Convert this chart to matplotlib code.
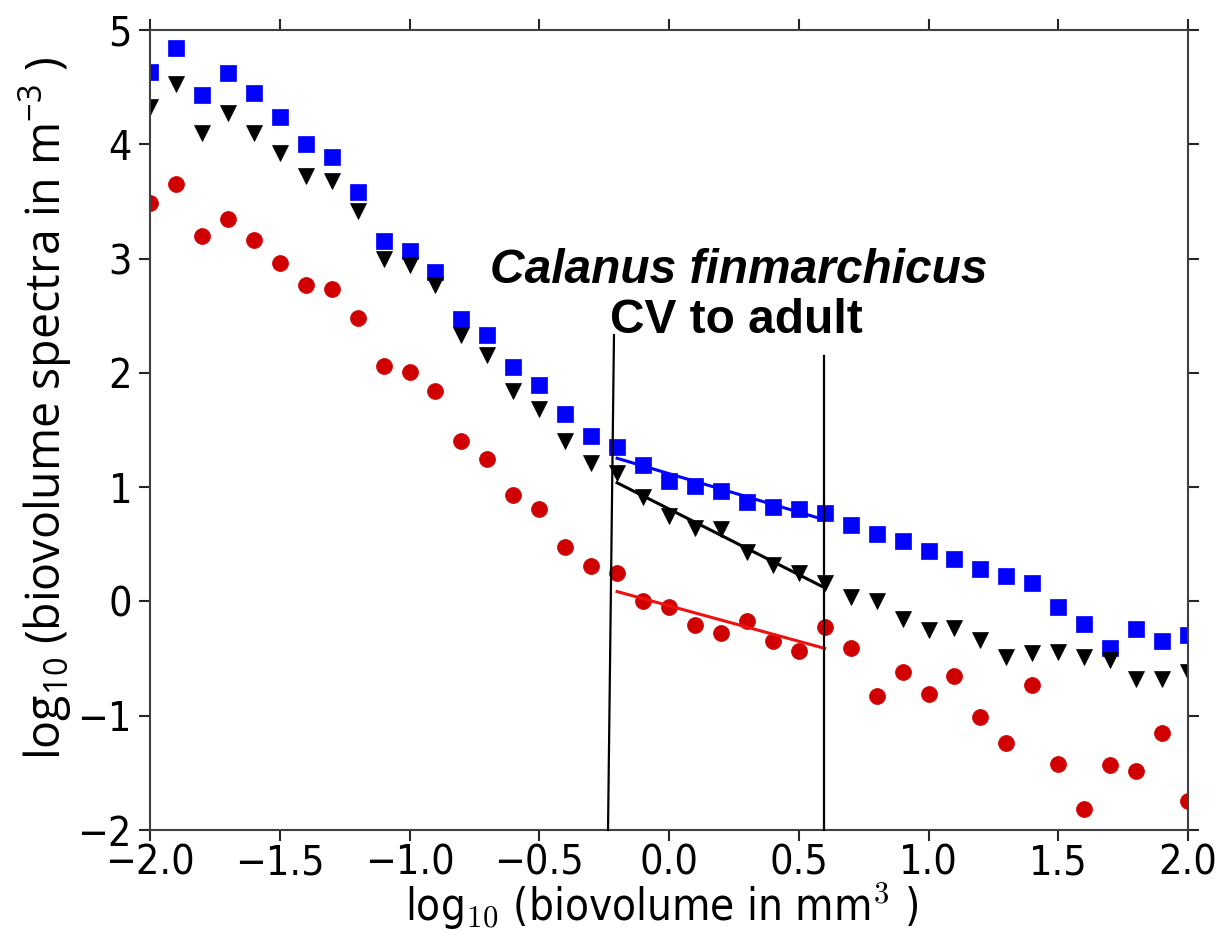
import numpy as np
import matplotlib
matplotlib.use("Agg")
import matplotlib.pyplot as plt
from matplotlib.ticker import FuncFormatter

# ---- data ----
log_biovolume = [-2.0, -1.9, -1.8, -1.7, -1.6, -1.5, -1.4, -1.3, -1.2, -1.1,
                 -1.0, -0.9, -0.8, -0.7, -0.6, -0.5, -0.4, -0.3, -0.2, -0.1,
                 0.0, 0.1, 0.2, 0.3, 0.4, 0.5, 0.6, 0.7, 0.8, 0.9,
                 1.0, 1.1, 1.2, 1.3, 1.4, 1.5, 1.6, 1.7, 1.8, 1.9, 2.0]

blue_squares = [4.63, 4.84, 4.43, 4.62, 4.45, 4.24, 4.00, 3.89, 3.58, 3.15,
                3.07, 2.88, 2.47, 2.33, 2.05, 1.89, 1.64, 1.45, 1.35, 1.19,
                1.05, 1.01, 0.97, 0.87, 0.83, 0.81, 0.77, 0.67, 0.59, 0.53,
                0.44, 0.37, 0.28, 0.22, 0.16, -0.05, -0.20, -0.41, -0.24, -0.35, -0.29]

black_triangles = [4.33, 4.53, 4.10, 4.27, 4.10, 3.92, 3.72, 3.68, 3.42, 3.00,
                   2.94, 2.77, 2.33, 2.16, 1.84, 1.68, 1.40, 1.21, 1.12, 0.91,
                   0.75, 0.64, 0.63, 0.43, 0.32, 0.25, 0.16, 0.04, 0.00, -0.15,
                   -0.25, -0.23, -0.34, -0.49, -0.45, -0.44, -0.49, -0.51, -0.68, -0.68, -0.62]

red_circles = [3.49, 3.65, 3.20, 3.35, 3.16, 2.96, 2.77, 2.73, 2.48, 2.06,
               2.01, 1.84, 1.40, 1.25, 0.93, 0.81, 0.48, 0.31, 0.25, 0.00,
               -0.05, -0.21, -0.28, -0.17, -0.35, -0.43, -0.22, -0.41, -0.83, -0.62,
               -0.81, -0.65, -1.01, -1.24, -0.73, -1.42, -1.82, -1.43, -1.48, -1.15, -1.75]

# fit window (Calanus finmarchicus CV to adult)
fit_range = (-0.2, 0.6)
# bracket lines: (x_bottom, x_top, y_top)
left_bracket = (-0.235, -0.212, 2.33)
right_bracket = (0.597, 0.597, 2.15)

xticks = [-2.0, -1.5, -1.0, -0.5, 0.0, 0.5, 1.0, 1.5, 2.0]
yticks = [-2, -1, 0, 1, 2, 3, 4, 5]

# ---- style ----
plt.rcParams['font.family'] = ['DejaVu Sans']
plt.rcParams['mathtext.fontset'] = 'custom'
plt.rcParams['mathtext.rm'] = 'Open Sans'
plt.rcParams['mathtext.it'] = 'Open Sans:italic'
plt.rcParams['mathtext.bf'] = 'Open Sans:bold'
plt.rcParams['axes.unicode_minus'] = True

W, H = 1230, 952
fig = plt.figure(figsize=(W / 100, H / 100), dpi=100)
ax = fig.add_axes([150 / W, 1 - 830 / H, 1038 / W, 800 / H])

x = np.array(log_biovolume)
series = [
    (np.array(blue_squares), 's', '#0000ff'),
    (np.array(black_triangles), 'v', 'black'),
    (np.array(red_circles), 'o', '#d00000'),
]
for y, mk, col in series:
    ax.plot(x, y, linestyle='none', marker=mk, markersize=11.5,
            markerfacecolor=col, markeredgecolor=col, markeredgewidth=0.5, zorder=2)

mask = (x >= fit_range[0] - 1e-9) & (x <= fit_range[1] + 1e-9)
xf = np.array(fit_range)
for y, mk, col in series:
    p = np.polyfit(x[mask], y[mask], 1)
    line_col = '#ee1111' if mk == 'o' else col
    ax.plot(xf, np.polyval(p, xf), color=line_col, linewidth=2.2, zorder=3)

ymin = yticks[0]
for xb, xt, yt in (left_bracket, right_bracket):
    ax.plot([xb, xt], [ymin, yt], color='black', linewidth=1.6, zorder=4, clip_on=False)

ax.text(0.27, 2.79, 'Calanus finmarchicus', family='Liberation Sans',
        fontsize=34.5, fontweight='bold', fontstyle='italic', ha='center', va='baseline')
ax.text(0.26, 2.35, 'CV to adult', family='Liberation Sans',
        fontsize=34.5, fontweight='bold', ha='center', va='baseline')

ax.set_xlim(-2.0, 2.0)
ax.set_ylim(-2, 5)
ax.set_xticks(xticks)
ax.set_yticks(yticks)
ax.xaxis.set_major_formatter(FuncFormatter(lambda v, pos: f'{v:.1f}'.replace('-', '\u2212')))
ax.yaxis.set_major_formatter(FuncFormatter(lambda v, pos: f'{v:.0f}'.replace('-', '\u2212')))
ax.tick_params(direction='out', length=8, width=1.5, top=True, right=True,
               labelsize=29.5, colors='0.15')
ax.tick_params(axis='x', pad=2)
ax.tick_params(axis='y', pad=5)
for lab in ax.get_xticklabels() + ax.get_yticklabels():
    lab.set_fontstretch('condensed')
    lab.set_color('black')
for s in ax.spines.values():
    s.set_linewidth(1.5)
    s.set_color('0.25')

xl = ax.set_xlabel(r'log$_{10}$ (biovolume in mm$^3$ )', fontsize=31.5,
                   fontstretch='condensed', va='top', ha='center')
xl.set_math_fontfamily('cm')
ax.xaxis.set_label_coords(0.493, -0.063)

yl = ax.set_ylabel(r'log$_{\mathrm{10}}$ (biovolume spectra in m$^{\mathrm{-3}}$ )',
                   fontsize=33.5, family='Open Sans', va='center', ha='center')
ax.yaxis.set_label_coords(-0.101, 0.5275)

fig.savefig('out.png', dpi=100)
